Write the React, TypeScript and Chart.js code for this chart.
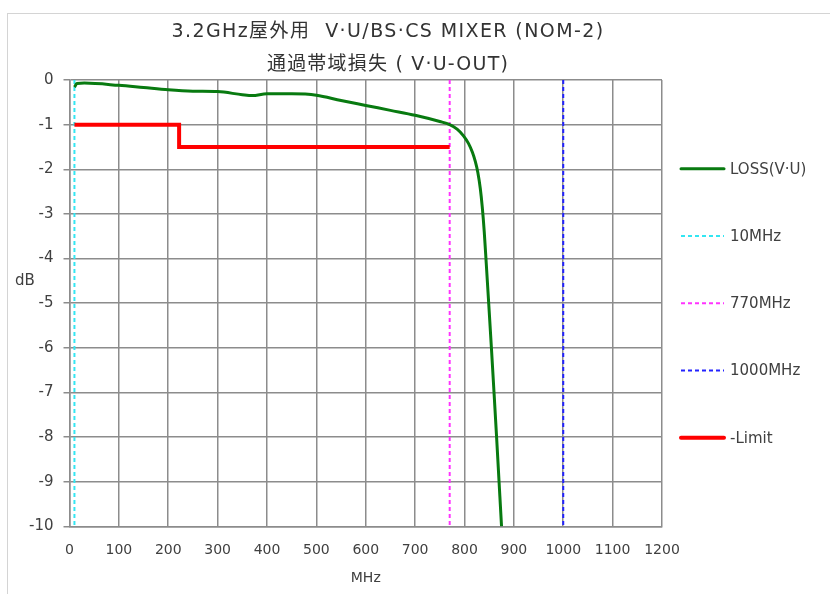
import React, { useEffect, useRef } from "react";
import { Chart, registerables } from "chart.js";

Chart.register(...registerables);

const titleLines = ["3.2GHz屋外用  V·U/BS·CS MIXER (NOM-2)", "通過帯域損失 ( V·U-OUT)"];
const yAxisTitle = "dB";
const xAxisTitle = "MHz";

const lossLabel = "LOSS(V·U)";
const lossFreq = [10, 15, 30, 100, 150, 200, 250, 300, 350, 370, 400, 450, 500, 550, 600, 650, 700, 750, 770, 785, 798, 808, 816, 822, 827, 832, 836, 840, 844, 849, 854.5, 859.8, 865, 870, 875];
const lossDb = [-0.16, -0.08, -0.07, -0.12, -0.17, -0.22, -0.25, -0.26, -0.33, -0.35, -0.31, -0.31, -0.34, -0.46, -0.57, -0.68, -0.79, -0.93, -1.0, -1.1, -1.25, -1.42, -1.62, -1.83, -2.07, -2.43, -2.85, -3.4, -4.1, -5.0, -6.0, -7.0, -8.0, -9.0, -10];

const limitLabel = "-Limit";
const limitFreq = [10, 222, 222, 770];
const limitDb = [-1, -1, -1.5, -1.5];

const markerLabels = ["10MHz", "770MHz", "1000MHz"];
const markerFreq = [10, 770, 1000];
const markerSpan = [0, -10];

const xRange = [0, 1200];
const xStep = 100;
const yRange = [-10, 0];
const yStep = 1;

const TEXT = "#404040";
const GRID = "#8c8c8c";

const overlayPlugin = {
  id: "overlay",
  afterDraw(chart: any) {
    const { ctx, chartArea: ca } = chart;
    ctx.save();
    // titles
    ctx.fillStyle = "#333333";
    ctx.textAlign = "center";
    ctx.textBaseline = "middle";
    ctx.font = '19px "DejaVu Sans", "Noto Sans CJK JP", sans-serif';
    try { (ctx as any).letterSpacing = "1.4px"; } catch (e) {}
    const cx = 388;
    ctx.fillText(titleLines[0], cx, 32);
    try { (ctx as any).letterSpacing = "1.2px"; } catch (e) {}
    ctx.fillText(titleLines[1], cx, 65);
    try { (ctx as any).letterSpacing = "0px"; } catch (e) {}
    // y title
    ctx.fillStyle = TEXT;
    ctx.font = '15px "DejaVu Sans", sans-serif';
    ctx.fillText(yAxisTitle, 25, (ca.top + ca.bottom) / 2 - 22);
    // legend
    const ds = chart.data.datasets;
    const n = ds.length;
    const spacing = 67.25;
    const cy0 = (ca.top + ca.bottom) / 2 - (spacing * (n - 1)) / 2;
    ctx.textAlign = "left";
    ds.forEach((d: any, i: number) => {
      const y = cy0 + i * spacing;
      ctx.save();
      ctx.strokeStyle = d.borderColor;
      ctx.lineWidth = d.borderWidth;
      const dash = d.borderDash || [];
      ctx.setLineDash(dash);
      ctx.lineCap = dash.length ? "butt" : "round";
      ctx.beginPath();
      ctx.moveTo(ca.right + 19, y);
      ctx.lineTo(ca.right + 62, y);
      ctx.stroke();
      ctx.restore();
      ctx.fillStyle = TEXT;
      ctx.fillText(d.label, ca.right + 68, y + 1);
    });
    ctx.restore();
  },
};

export default function App() {
  const ref = useRef<HTMLCanvasElement | null>(null);

  useEffect(() => {
    if (!ref.current) return;
    const lossData = lossFreq.map((f, i) => ({ x: f, y: lossDb[i] }));
    const limitData = limitFreq.map((f, i) => ({ x: f, y: limitDb[i] }));
    const markerColors = ["#33e6f2", "#ff33ff", "#2222ff"];
    const markerSets = markerFreq.map((f, i) => ({
      label: markerLabels[i],
      data: markerSpan.map((y) => ({ x: f, y })),
      borderColor: markerColors[i],
      borderWidth: 2,
      borderDash: [4, 3],
      pointRadius: 0,
      fill: false,
      order: 3,
    }));
    const chart = new Chart(ref.current, {
      type: "line",
      data: {
        datasets: [
          {
            label: lossLabel,
            data: lossData,
            borderColor: "#087a10",
            borderWidth: 3,
            pointRadius: 0,
            cubicInterpolationMode: "monotone",
            fill: false,
            order: 1,
          },
          ...markerSets,
          {
            label: limitLabel,
            data: limitData,
            borderColor: "#ff0000",
            borderWidth: 4,
            pointRadius: 0,
            fill: false,
            order: 2,
          },
        ] as any,
      },
      options: {
        animation: false,
        responsive: false,
        devicePixelRatio: 1,
        layout: { padding: { left: 19, top: 80, right: 168, bottom: 7 } },
        plugins: { legend: { display: false }, title: { display: false }, tooltip: { enabled: false } },
        scales: {
          x: {
            type: "linear",
            min: xRange[0],
            max: xRange[1],
            ticks: {
              stepSize: xStep,
              color: TEXT,
              font: { family: "DejaVu Sans", size: 14 },
              padding: 16,
              maxRotation: 0,
              autoSkip: false,
              callback: (v: any) => String(v),
            },
            grid: { color: GRID, lineWidth: 1.5, drawTicks: false },
            border: { color: GRID, width: 1.5 },
            title: {
              display: true,
              text: xAxisTitle,
              color: TEXT,
              font: { family: "DejaVu Sans", size: 14 },
              padding: { top: -5, bottom: 0 },
            },
          },
          y: {
            type: "linear",
            min: yRange[0],
            max: yRange[1],
            ticks: {
              stepSize: yStep,
              color: TEXT,
              font: { family: "DejaVu Sans", size: 15 },
              padding: 10,
              callback: (v: any) => String(v),
            },
            grid: { color: GRID, lineWidth: 1.5, tickLength: 6 },
            border: { color: GRID, width: 1.5 },
          },
        },
      },
      plugins: [overlayPlugin],
    });
    return () => chart.destroy();
  }, []);

  return (
    <div style={{ position: "fixed", left: 0, top: 0, width: 830, height: 594, overflow: "hidden", background: "#fff" }}>
      <div style={{ position: "absolute", left: 7, top: 13, width: 840, height: 600, border: "1px solid #d4d4d4" }} />
      <canvas ref={ref} width={830} height={594} style={{ position: "absolute", left: 0, top: 0, width: 830, height: 594 }} />
    </div>
  );
}
